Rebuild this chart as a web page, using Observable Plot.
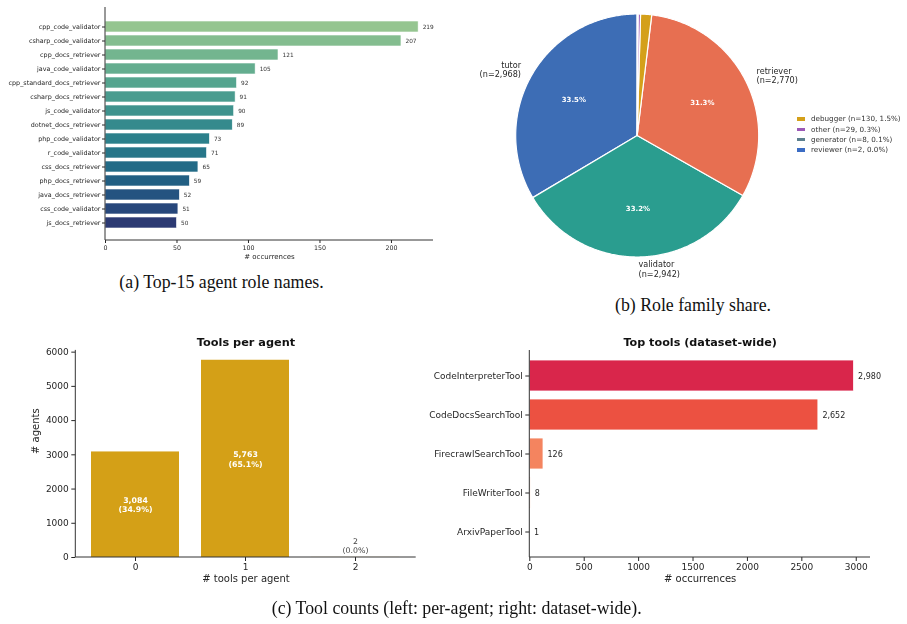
<!DOCTYPE html>
<html><head><meta charset="utf-8">
<script src="https://cdn.jsdelivr.net/npm/d3@7"></script>
<script src="https://cdn.jsdelivr.net/npm/@observablehq/plot@0.6"></script>
<style>
html,body{margin:0;padding:0;background:#fff;}
#root{position:relative;width:907px;height:624px;overflow:hidden;background:#fff;font-family:"DejaVu Sans",sans-serif;}
.panel{position:absolute;will-change:transform;}
.panel svg{overflow:visible;max-width:none !important;background:transparent !important;}
.cap{position:absolute;font-family:"Liberation Serif","Times New Roman",serif;font-size:17.8px;color:#111;white-space:nowrap;transform:translate(-50%,-50%);}
.leg{position:absolute;font-family:"DejaVu Sans",sans-serif;font-size:7.2px;color:#333;white-space:nowrap;will-change:transform;}
.sw{position:absolute;width:7.5px;height:3.6px;}
</style></head><body><div id="root"></div>
<script>
// ---------- data ----------
const roleNames = ["cpp_code_validator","csharp_code_validator","cpp_docs_retriever","java_code_validator","cpp_standard_docs_retriever","csharp_docs_retriever","js_code_validator","dotnet_docs_retriever","php_code_validator","r_code_validator","css_docs_retriever","php_docs_retriever","java_docs_retriever","css_code_validator","js_docs_retriever"];
const roleCounts = [219,207,121,105,92,91,90,89,73,71,65,59,52,51,50];
const roleTicks = [0,50,100,150,200];

const familyNames = ["tutor","validator","retriever","debugger","other","generator","reviewer"];
const familyCounts = [2968,2942,2770,130,29,8,2];

const toolsPerAgent = ["0","1","2"];
const agentCounts = [3084,5763,2];
const agentTicks = [0,1000,2000,3000,4000,5000,6000];

const toolNames = ["CodeInterpreterTool","CodeDocsSearchTool","FirecrawlSearchTool","FileWriterTool","ArxivPaperTool"];
const toolCounts = [2980,2652,126,8,1];
const toolTicks = [0,500,1000,1500,2000,2500,3000];

// ---------- palettes ----------
const crestColors = ["#95c590","#84bd8f","#73b58f","#64ad8f","#55a58f","#4a9c8f","#3f938e","#358a8d","#2c808b","#277689","#236b87","#225f83","#245380","#27477b","#2c3a73"];
const familyColors = ["#3d6db5","#2a9d8f","#e76f51","#d4a01a","#9b59b6","#5c7f8e","#3b6cc4"];
const toolColors = ["#d9264b","#ec5141","#f4845f","#f7a883","#f9c9ad"];
const goldColor = "#d4a017";

const fmt = d3.format(",");
const root = document.getElementById("root");
const baseStyle = {fontFamily:"DejaVu Sans", color:"#262626", background:"transparent", overflow:"visible", maxWidth:"none"};

function place(node, left, top) {
  const div = document.createElement("div");
  div.className = "panel";
  div.style.left = left + "px";
  div.style.top = top + "px";
  div.appendChild(node);
  root.appendChild(div);
}
function spines(m) {
  return function() {
    const g = document.createElementNS("http://www.w3.org/2000/svg", "g");
    g.innerHTML = `<path d="M${m.marginLeft},${m.marginTop}V${m.height - m.marginBottom}H${m.width - m.marginRight}" fill="none" stroke="#333" stroke-width="1"/>`;
    return g;
  };
}
function caption(text, cx, cy) {
  const d = document.createElement("div");
  d.className = "cap";
  d.textContent = text;
  d.style.left = cx + "px";
  d.style.top = cy + "px";
  root.appendChild(d);
}

// ---------- (a) top-15 role names ----------
{
  const dataA = roleNames.map((name, i) => ({name, count: roleCounts[i], color: crestColors[i]}));
  const m = {width: 440, height: 262, marginLeft: 105, marginRight: 7, marginTop: 7, marginBottom: 22};
  const p = Plot.plot({
    ...m,
    style: baseStyle,
    x: {domain: [0, 229.4]},
    y: {domain: roleNames, padding: 0.25, insetTop: 7.6, insetBottom: 7},
    marks: [
      Plot.barX(dataA, {x: "count", y: "name", fill: "color", stroke: "white", strokeWidth: 0.6}),
      Plot.text(dataA, {x: "count", y: "name", text: d => String(d.count), dx: 4, textAnchor: "start", fontSize: 5.8, fill: "#333"}),
      Plot.axisY({tickSize: 3, tickPadding: 2, fontSize: 6.4, label: null}),
      Plot.axisX({ticks: roleTicks, tickSize: 3, tickPadding: 2, fontSize: 6.3, label: null}),
      Plot.text(["# occurrences"], {frameAnchor: "bottom", dy: 18, fontSize: 7}),
      spines(m)
    ]
  });
  place(p, 0, 0);
  caption("(a) Top-15 agent role names.", 221.5, 282);
}

// ---------- (b) role family pie ----------
{
  const total = d3.sum(familyCounts);
  const R = 121.5, cx = 176.7, cy = 135, W = 447, H = 290;
  let cum = 0;
  const slices = familyNames.map((name, i) => {
    const a0 = Math.PI / 2 + 2 * Math.PI * cum / total;
    cum += familyCounts[i];
    const a1 = Math.PI / 2 + 2 * Math.PI * cum / total;
    const n = Math.max(2, Math.ceil((a1 - a0) / 0.01));
    const pts = [{x: 0, y: 0}];
    for (let k = 0; k <= n; k++) {
      const t = a0 + (a1 - a0) * k / n;
      pts.push({x: Math.cos(t), y: Math.sin(t)});
    }
    pts.push({x: 0, y: 0});
    const mid = (a0 + a1) / 2;
    return {name, n: familyCounts[i], pct: familyCounts[i] / total * 100, pts, mid, color: familyColors[i]};
  });
  const big = slices.filter(s => s.pct >= 5);
  const lab = big.map(s => ({
    x: 1.1 * Math.cos(s.mid), y: 1.1 * Math.sin(s.mid),
    px: 0.6 * Math.cos(s.mid), py: 0.6 * Math.sin(s.mid),
    text: `${s.name}\n(n=${fmt(s.n)})`, pct: s.pct.toFixed(1) + "%", right: Math.cos(s.mid) > 0
  }));
  const p = Plot.plot({
    width: W, height: H, margin: 0,
    style: baseStyle,
    axis: null,
    x: {domain: [-cx / R, (W - cx) / R], range: [0, W]},
    y: {domain: [-(H - cy) / R, cy / R], range: [H, 0]},
    marks: [
      ...slices.map(s => Plot.line(s.pts, {x: "x", y: "y", fill: s.color, stroke: "white", strokeWidth: 1.2, strokeLinejoin: "round"})),
      Plot.text(lab.filter(d => d.right), {x: "x", y: "y", text: "text", textAnchor: "start", lineAnchor: "middle", fontSize: 8.1, lineHeight: 1.2, fill: "#262626"}),
      Plot.text(lab.filter(d => !d.right), {x: "x", y: "y", text: "text", textAnchor: "end", lineAnchor: "middle", fontSize: 8.1, lineHeight: 1.2, fill: "#262626"}),
      Plot.text(lab, {x: "px", y: "py", text: "pct", fontSize: 7, fontWeight: "bold", fill: "white"})
    ]
  });
  place(p, 460, 0);
  // legend for the small slices
  const small = slices.filter(s => s.pct < 5);
  small.forEach((s, i) => {
    const top = 119 + i * 10.3;
    const sw = document.createElement("div");
    sw.className = "sw";
    sw.style.background = s.color;
    sw.style.left = "797.3px";
    sw.style.top = (top - 1.8) + "px";
    root.appendChild(sw);
    const t = document.createElement("div");
    t.className = "leg";
    t.textContent = `${s.name} (n=${fmt(s.n)}, ${s.pct.toFixed(1)}%)`;
    t.style.left = "810.7px";
    t.style.top = (top - 4.6) + "px";
    t.style.lineHeight = "9px";
    root.appendChild(t);
  });
  caption("(b) Role family share.", 693, 305);
}

// ---------- (c-left) tools per agent ----------
{
  const total = d3.sum(agentCounts);
  const dataC = toolsPerAgent.map((k, i) => ({k, n: agentCounts[i], label: `${fmt(agentCounts[i])}\n(${(agentCounts[i] / total * 100).toFixed(1)}%)`}));
  const m = {width: 440, height: 280, marginLeft: 75.3, marginRight: 24.3, marginTop: 29.9, marginBottom: 43};
  const p = Plot.plot({
    ...m,
    style: baseStyle,
    x: {domain: toolsPerAgent, paddingInner: 0.2, paddingOuter: 0.138},
    y: {domain: [0, 6051]},
    marks: [
      Plot.barY(dataC, {x: "k", y: "n", fill: goldColor}),
      Plot.text(dataC.filter(d => d.n > 1000), {x: "k", y: d => d.n / 2, text: "label", fill: "white", fontWeight: "bold", fontSize: 7.8, lineHeight: 1.2}),
      Plot.text(dataC.filter(d => d.n <= 1000), {x: "k", y: "n", text: "label", fill: "#444", fontSize: 7.8, lineHeight: 1.2, lineAnchor: "bottom", dy: -4}),
      Plot.axisY({ticks: agentTicks, tickFormat: "d", tickSize: 4, tickPadding: 3, fontSize: 9, label: null}),
      Plot.axisX({tickSize: 4, tickPadding: 2.5, fontSize: 9, label: null}),
      Plot.text(["Tools per agent"], {frameAnchor: "top", dy: -12.2, fontWeight: "bold", fontSize: 11.3, fill: "#111"}),
      Plot.text(["# tools per agent"], {frameAnchor: "bottom", dy: 24, fontSize: 10}),
      Plot.text(["# agents"], {frameAnchor: "left", dx: -40, rotate: -90, fontSize: 10}),
      spines(m)
    ]
  });
  place(p, 0, 320);
}

// ---------- (c-right) top tools ----------
{
  const dataT = toolNames.map((name, i) => ({name, n: toolCounts[i], color: toolColors[i]}));
  const m = {width: 467, height: 280, marginLeft: 89.3, marginRight: 37, marginTop: 30, marginBottom: 43};
  const p = Plot.plot({
    ...m,
    style: baseStyle,
    x: {domain: [0, 3131]},
    y: {domain: toolNames, paddingInner: 0.2, paddingOuter: 0.233},
    marks: [
      Plot.barX(dataT, {x: "n", y: "name", fill: "color", stroke: "white", strokeWidth: 0.8}),
      Plot.text(dataT, {x: "n", y: "name", text: d => fmt(d.n), dx: 4, textAnchor: "start", fontSize: 8, fill: "#262626"}),
      Plot.axisY({tickSize: 4, tickPadding: 3, fontSize: 9, label: null}),
      Plot.axisX({ticks: toolTicks, tickFormat: "d", tickSize: 4, tickPadding: 2.5, fontSize: 9, label: null}),
      Plot.text(["Top tools (dataset-wide)"], {frameAnchor: "top", dy: -12.3, fontWeight: "bold", fontSize: 11.2, fill: "#111"}),
      Plot.text(["# occurrences"], {frameAnchor: "bottom", dy: 24, fontSize: 10}),
      spines(m)
    ]
  });
  place(p, 440, 320);
  caption("(c) Tool counts (left: per-agent; right: dataset-wide).", 456.7, 608.3);
}
</script>
</body></html>
